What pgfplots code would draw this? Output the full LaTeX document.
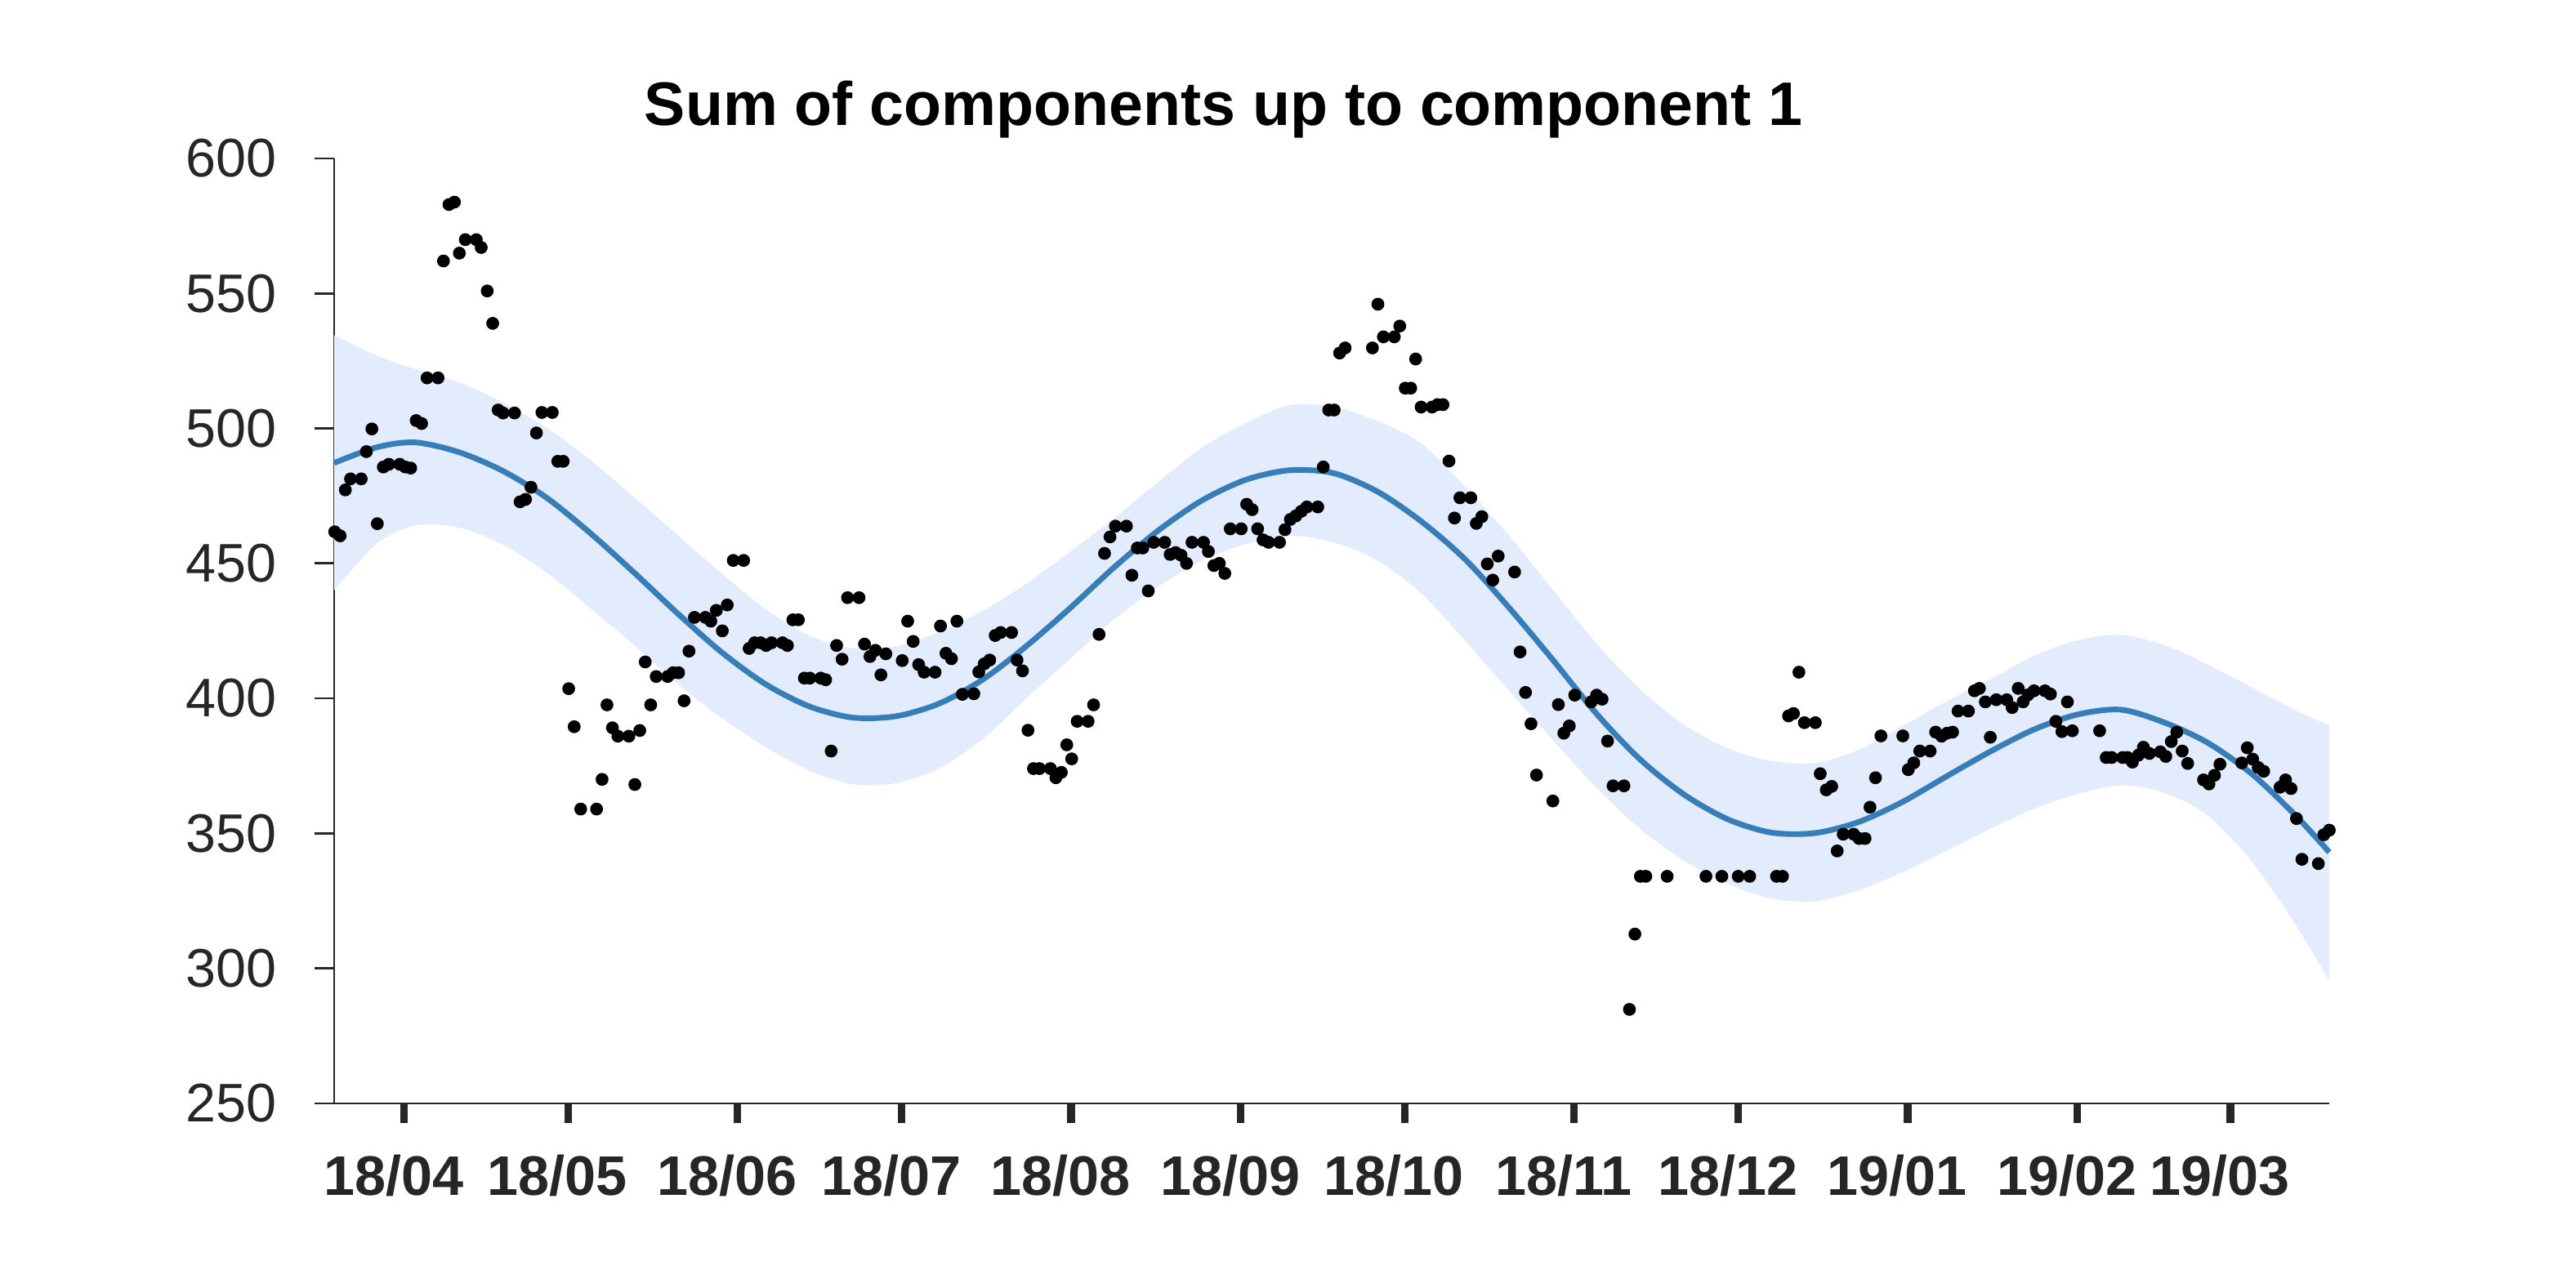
\documentclass[border=0pt]{standalone}
\usepackage{fontspec}
\setmainfont{Liberation Sans}
\usepackage{pgfplots}
\pgfplotsset{compat=1.18}
\usepgfplotslibrary{fillbetween}

\definecolor{bandblue}{RGB}{227,236,253}
\definecolor{meanblue}{RGB}{55,126,184}
\definecolor{axisgray}{RGB}{38,38,38}

% x = days since 2018-04-01; mean and band edges
\pgfplotstableread{
x mean up lo
-12.8 487.2 534.5 440.0
-5 493.0 527.0 457.3
2 494.8 522.0 464.0
10 491.2 517.1 463.3
18 484.3 509.7 457.0
26 474.4 500.3 446.7
34 461.3 488.4 433.5
42 446.7 474.6 419.8
50 431.5 460.5 405.4
58 417.2 446.4 392.9
66 405.4 433.2 382.1
74 397.1 423.4 373.4
82 392.9 418.6 368.2
90 393.4 419.3 368.6
98 398.2 424.7 374.2
106 407.2 432.6 385.2
114 419.7 442.8 400.4
122 433.8 454.6 415.0
130 448.8 467.0 429.5
138 462.3 480.3 441.5
146 473.4 493.0 451.2
154 481.0 502.1 457.2
162 484.5 508.6 460.2
170 483.4 508.0 457.8
178 476.6 502.7 451.1
186 465.6 494.5 439.0
194 451.6 478.5 421.5
202 433.8 460.5 403.0
210 414.5 440.5 384.8
218 394.5 420.5 367.0
226 377.5 403.5 351.8
234 364.5 390.4 340.0
242 355.3 381.6 331.4
250 350.3 376.8 325.9
258 350.1 376.1 324.8
266 354.2 380.9 328.9
274 361.6 389.7 335.6
282 371.0 398.8 343.4
290 380.2 406.9 351.6
298 388.4 415.7 359.0
306 394.0 421.5 364.6
314 395.8 423.5 367.8
322 391.0 419.7 365.0
330 383.4 412.4 356.4
338 371.9 404.0 339.4
346 356.5 395.5 316.0
352.1 343.0 390.0 295.3
}\fitcurve

\begin{document}
\begin{tikzpicture}
\begin{axis}[
    at={(3.113cm,1.717cm)}, anchor=south west,
    scale only axis,
    width=18.588cm, height=8.807cm,
    xmin=-12.8, xmax=352.1,
    ymin=250, ymax=600,
    clip=false,
    axis x line*=bottom,
    axis y line*=left,
    axis line style={line width=0.6pt, axisgray},
    tick style={line width=0.6pt, axisgray},
    xtick style={line width=2pt},
    tick align=outside,
    major tick length=5.2pt,
    xtick={0,30,61,91,122,153,183,214,244,275,306,334},
    xticklabels={18/04,18/05,18/06,18/07,18/08,18/09,18/10,18/11,18/12,19/01,19/02,19/03},
    ytick={250,300,350,400,450,500,550,600},
    yticklabels={250,300,350,400,450,500,550,600},
    xticklabel style={font=\fontsize{14.8}{17}\selectfont\bfseries, text=axisgray, yshift=-5pt, xshift=-2.8pt},
    yticklabel style={font=\fontsize{14.4}{17}\selectfont, text=axisgray, xshift=-6.5pt},
]
\addplot[name path=up, draw=none, smooth] table[x=x, y=up] {\fitcurve};
\addplot[name path=lo, draw=none, smooth] table[x=x, y=lo] {\fitcurve};
\addplot[fill=bandblue, draw=none] fill between[of=up and lo];
\addplot[meanblue, line width=1.5pt, smooth] table[x=x, y=mean] {\fitcurve};
\addplot[only marks, mark=*, mark size=1.5pt, black] coordinates {
(-12.7,461.7)(-11.7,460.2)(-10.75,477.2)(-9.8,481.3)(-7.85,481.3)(-6.9,491.4)(-5.9,499.8)(-4.9,464.7)
(-3.8,485.7)(-2.8,486.7)(-0.8,486.7)(0.2,485.7)(1.2,485.3)(2.2,502.9)(3.2,501.8)(4.2,518.7)(6.2,518.7)
(7.2,562)(8.2,582.9)(9.2,583.8)(10.1,564.9)(11.2,569.9)(13.2,569.9)(14.1,567)(15.2,550.9)(16.2,538.9)
(17.2,506.8)(18.1,505.7)(20.2,505.7)(21.2,472.8)(22.2,473.7)(23.2,478.2)(24.2,498.3)(25.2,505.9)
(27.1,505.9)(28.1,487.8)(29.1,487.8)
(30.1,403.6)(31.1,389.5)(32.3,359)(35.2,359)(36.2,370)(37.1,397.6)(38.1,389.1)(39.1,386)(41.1,386)
(42.2,368.1)(43.1,388.1)(44.1,413.5)(45.1,397.6)(46.1,408.1)(48.2,408.1)(49.2,409.5)(50.2,409.5)
(51.2,399.1)(52.1,417.5)(53.1,430)(55.1,430)(56.1,428.6)(57.1,432.6)(58.2,425)(59.1,434.6)(60.2,451.1)
(62.1,451.1)(63.1,418.5)(64.1,420.6)(65.2,420.6)(66.2,419.6)(67.2,420.6)(69.2,420.6)(70.1,419.6)
(71.1,429.1)(72.1,429.1)(73.2,407.5)(74.2,407.5)(76.2,407.5)(77.1,406.9)(78.1,380.5)(79.1,419.6)
(80.1,414.5)(81.1,437.3)(83.2,437.3)(84.2,420.1)(85.2,415.5)(86.2,417.8)(87.2,408.7)(88.1,416.5)
(91.1,414)(92.1,428.6)(93.1,421.1)(94.1,412.5)(95.1,409.7)(97.1,409.7)(98.1,426.8)(99.1,416.7)
(100.1,414.7)(101.1,428.6)(102.1,401.5)(104.2,401.7)(105.1,409.8)(106.1,412.8)(107.1,414.2)
(108.1,423.3)(109.1,424.4)(111.1,424.4)(112.1,414.2)(113.1,410.2)(114.1,388.2)(115.1,374)(116.2,374)
(118.2,374)(119.2,370.6)(120.2,372.6)(121.2,382.8)(122.1,377.6)(123.1,391.5)(125.1,391.5)(126.1,397.6)
(127.1,423.7)(128.1,453.7)(129.1,459.8)(130.1,463.8)(132.1,463.8)(133.1,445.6)(134.1,455.7)
(135.1,455.7)(136.1,439.8)(137.1,457.8)(139.1,457.8)(140.1,453.3)(141.1,454)(142.1,453)(143.1,450)
(144.1,457.8)(146.2,457.8)(147.1,454.4)(148.1,449.2)(149.1,450)(150.1,446.3)(151.1,462.8)(153.1,462.8)
(154.1,471.9)(155.1,469.9)(156.1,462.8)(157.1,458.7)(158.1,457.8)(160.1,457.8)(161.1,462.5)
(162.1,466.3)(163.1,467.6)(164.1,469.3)(165.1,470.9)(167.1,470.9)(168.1,485.7)(169.1,506.8)
(170.1,506.8)(171.1,527.9)(172.1,529.8)(177.1,529.8)(178.1,546)(179.1,533.9)(181.1,533.9)(182.1,537.9)
(183.1,514.9)(184.1,514.9)(185,525.7)(186,507.9)(188,507.9)(189,508.8)(190,508.8)(191.1,487.9)
(192.1,466.8)(193.1,474.3)(195.1,474.3)(196.1,464.8)(197.1,467.3)(198.1,449.8)(199.1,443.8)
(200.1,452.7)(203.1,446.8)(204.1,417.2)(205.1,402.2)(206.1,390.6)(207.1,371.6)(210.1,362)(211.1,397.7)
(212.1,387.1)(213.1,389.8)(214.1,401.2)(217.1,398.7)(218.1,401.2)(219.1,399.7)(220.1,384.2)
(221.1,367.6)(223.1,367.6)(224.1,284.8)(225.1,312.7)(226.1,334.1)(227.1,334.1)(231,334.1)(238.1,334.1)
(241,334.1)(244,334.1)(246.1,334.1)(251,334.1)(252.1,334.1)(253.2,393.5)(254.1,394.4)(255.1,409.7)
(256.1,391)(258.1,391)(259,372.1)(260.1,366.1)(261.1,367.4)(262.1,343.5)(263.2,349.7)(265.1,349.7)
(266.1,348.1)(267.2,348.1)(268.1,359.7)(269.1,370.6)(270.1,386.1)(274.1,386.1)(275.1,373.6)
(276.1,376.1)(277.2,380.5)(279.1,380.5)(280.1,387.5)(281.2,386)(282.2,387.1)(283.2,387.5)(284.2,395.3)
(286.1,395.3)(287.2,402.8)(288.1,403.7)(289.2,398.7)(290.1,385.6)(291.2,399.5)(293.1,399.5)
(294.1,396.6)(295.2,403.7)(296.1,398.7)(297,401.3)(298.1,402.8)(300.1,402.8)(301.1,401.6)(302.1,391.5)
(303.2,387.7)(304.2,398.7)(305.1,388)(310.1,388)(311.3,378.1)(312.3,378.1)(314.3,378.1)(315.2,378.1)
(316.1,376.4)(317.2,379)(318.1,381.9)(319.2,379.6)(321.2,380.2)(322.2,378.5)(323.2,384)(324.2,387.5)
(325.2,380.5)(326.2,375.9)(329.1,369.8)(330.1,368.3)(331.1,371.5)(332.1,375.6)(336.1,376.1)
(337.1,381.7)(338.1,377.5)(339.1,374.4)(340.1,373)(343.1,367.1)(344.1,369.8)(345.1,366.6)(346.1,355.5)
(347.1,340.4)(350.1,338.8)(351.1,349.5)(352.1,351.2)
};
\end{axis}
\node[anchor=base, font=\fontsize{16.3}{19}\selectfont\bfseries] at (11.40cm,10.828cm) {Sum of components up to component 1};
\path (0,0) rectangle (24cm,12cm);
\end{tikzpicture}
\end{document}
